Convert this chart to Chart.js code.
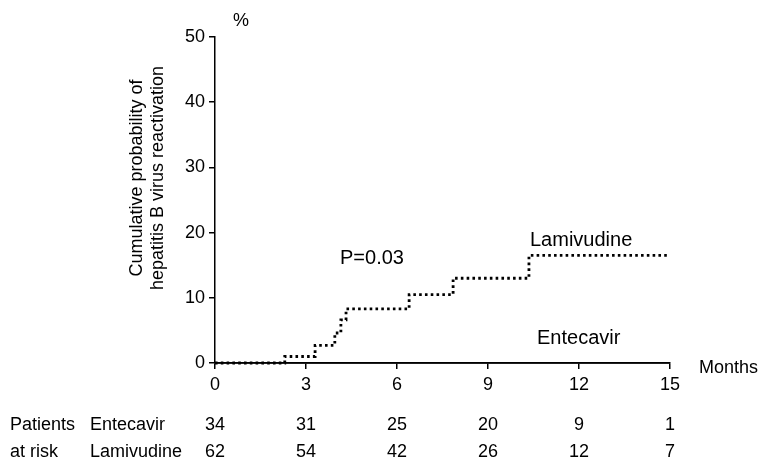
<!DOCTYPE html>
<html><head><meta charset="utf-8">
<script src="https://cdn.jsdelivr.net/npm/chart.js@4/dist/chart.umd.min.js"></script>
<style>html,body{margin:0;padding:0;background:#fff}#wrap{width:759px;height:466px}</style>
</head><body><div id="wrap"><canvas id="c" width="759" height="466"></canvas></div>
<script>
const months = [0, 3, 6, 9, 12, 15];
const yTicks = [0, 10, 20, 30, 40, 50];
const lamTimes = [0, 2.3, 3.3, 3.95, 4.15, 4.32, 6.4, 7.85, 10.35, 14.9];
const lamCum = [0, 1.0, 2.7, 4.6, 6.6, 8.3, 10.5, 13.0, 16.5, 16.5];
const entTimes = [0, 15];
const entCum = [0, 0];
const riskGroups = ['Entecavir', 'Lamivudine'];
const riskEntecavir = [34, 31, 25, 20, 9, 1];
const riskLamivudine = [62, 54, 42, 26, 12, 7];
const riskRows = [riskEntecavir, riskLamivudine];

const FONT = '"Liberation Sans", Arial, sans-serif';

const textPlugin = {
  id: 'texts',
  afterDraw(chart) {
    const ctx = chart.ctx;
    const xs = chart.scales.x;
    ctx.save();
    ctx.fillStyle = '#000';
    ctx.textBaseline = 'middle';
    ctx.font = '18px ' + FONT;
    ctx.textAlign = 'left';
    ctx.fillText('%', 233, 21);
    ctx.fillText('Months', 699, 368);
    ctx.font = '20px ' + FONT;
    ctx.fillText('P=0.03', 340, 258);
    ctx.fillText('Lamivudine', 530, 240);
    ctx.fillText('Entecavir', 537, 338);
    // y title
    ctx.save();
    ctx.font = '18px ' + FONT;
    ctx.textAlign = 'center';
    ctx.translate(137, 178);
    ctx.rotate(-Math.PI / 2);
    ctx.fillText('Cumulative probability of', 0, 0);
    ctx.fillText('hepatitis B virus reactivation', 0, 21);
    ctx.restore();
    // risk table
    ctx.font = '18px ' + FONT;
    ctx.textAlign = 'left';
    ctx.fillText('Patients', 10, 425);
    ctx.fillText('at risk', 10, 452);
    const rowY = [425, 452];
    riskGroups.forEach((g, r) => {
      ctx.textAlign = 'left';
      ctx.fillText(g, 90, rowY[r]);
      ctx.textAlign = 'center';
      riskRows[r].forEach((v, i) => {
        ctx.fillText(String(v), xs.getPixelForValue(months[i]), rowY[r]);
      });
    });
    ctx.restore();
  }
};

new Chart(document.getElementById('c'), {
  type: 'line',
  data: {
    datasets: [
      {
        label: 'Entecavir',
        data: entTimes.map((t, i) => ({x: t, y: entCum[i]})),
        borderColor: '#000', borderWidth: 1.5, pointRadius: 0, stepped: true, clip: false
      },
      {
        label: 'Lamivudine',
        data: lamTimes.map((t, i) => ({x: t, y: lamCum[i]})),
        borderColor: '#000', borderWidth: 2.8, borderDash: [2.6, 3.2], borderCapStyle: 'butt',
        pointRadius: 0, stepped: true, clip: false
      }
    ]
  },
  options: {
    responsive: false, animation: false, devicePixelRatio: 1,
    layout: {padding: {left: 0, top: 37, right: 89, bottom: 0}},
    plugins: {legend: {display: false}, tooltip: {enabled: false}},
    scales: {
      x: {
        type: 'linear', min: 0, max: 15,
        afterBuildTicks: s => { s.ticks = months.map(v => ({value: v})); },
        ticks: {color: '#000', font: {size: 18, family: FONT}, padding: 5, maxRotation: 0},
        grid: {drawOnChartArea: false, drawTicks: true, tickLength: 6, color: '#000', lineWidth: 1.5},
        border: {color: '#000', width: 1.5},
        afterFit: s => { s.height = 103; }
      },
      y: {
        min: 0, max: 50,
        afterBuildTicks: s => { s.ticks = yTicks.map(v => ({value: v})); },
        ticks: {color: '#000', font: {size: 18, family: FONT}, padding: 4},
        grid: {drawOnChartArea: false, drawTicks: true, tickLength: 6, color: '#000', lineWidth: 1.5},
        border: {color: '#000', width: 1.5},
        afterFit: s => { s.width = 215; }
      }
    }
  },
  plugins: [textPlugin]
});
</script>
</body></html>
